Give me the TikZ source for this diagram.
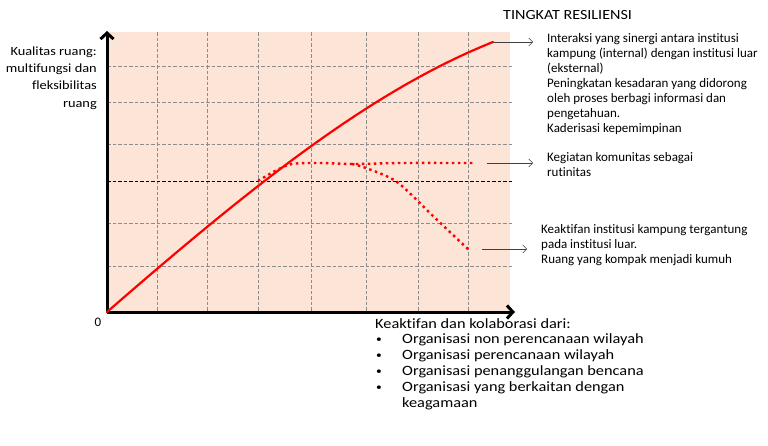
\documentclass[tikz,border=0pt]{standalone}
\usepackage{fontspec}
\setmainfont{Carlito}[Ligatures=NoCommon]
\newfontfamily\widefont{Carlito}[FakeStretch=1.15, Ligatures=NoCommon]
\usetikzlibrary{positioning,calc,arrows.meta}
\definecolor{peach}{HTML}{FCE4D6}
\definecolor{gridgray}{HTML}{8C8C8C}
\newcommand{\listdot}{\makebox[27pt][l]{\hspace*{1pt}\raisebox{1.2pt}{\fontsize{10}{10}\selectfont •}}}

\begin{document}
\begin{tikzpicture}[x=1pt,y=-1pt,
    gridline/.style={gridgray, line width=0.6pt, dash pattern=on 3.5pt off 2pt},
    curve/.style={red, line width=2.2pt, line cap=round},
    dotcurve/.style={red, line width=2.4pt, dash pattern=on 2.5pt off 3.5pt},
    pointer/.style={black!75, line width=0.5pt, -{Straight Barb[length=4pt,width=8pt]}, shorten >=14pt},
    note/.style={font=\fontsize{13}{15}\selectfont, align=left, inner sep=0pt, anchor=north west}]
    \useasboundingbox (0,0) rectangle (768,445);

    % Background of the chart
    \fill[peach] (107,32) rectangle (510,312);

    % Grid
    \draw[gridline] (157,32) -- (157,312);
    \draw[gridline] (207,32) -- (207,312);
    \draw[gridline] (258,32) -- (258,312);
    \draw[gridline] (311,32) -- (311,312);
    \draw[gridline] (366,32) -- (366,312);
    \draw[gridline] (418,32) -- (418,312);
    \draw[gridline] (468,32) -- (468,312);
    \draw[gridline] (107,66) -- (512,66);
    \draw[gridline] (107,102) -- (512,102);
    \draw[gridline] (107,144) -- (512,144);
    \draw[gridline, black] (107,181) -- (512,181);
    \draw[gridline] (107,223) -- (512,223);
    \draw[gridline] (107,266) -- (512,266);

    % Axes
    \coordinate (O) at (107,312);
    \coordinate (Ytop) at (107,31);
    \coordinate (Xend) at (515,312);
    \draw[line width=3pt, -{Straight Barb[length=6pt,width=13pt]}] (O) -- (Ytop);
    \draw[line width=3pt, -{Straight Barb[length=6pt,width=13pt]}] (O) -- (Xend);
    \node[font=\fontsize{13}{15}\selectfont, inner sep=0pt] (zero) at (98,322) {0};

    % Resilience curves
    \coordinate (high) at (493,42);
    \coordinate (mid) at (487,163);
    \coordinate (low) at (482,249);
    \draw[curve] (O) .. controls (257,181.5) and (373,90) .. (high);
    \draw[dotcurve] plot[smooth] coordinates {(258,181) (275,171) (292,164) (320,163) (355,164) (400,163) (473,163)};
    \draw[dotcurve] plot[smooth] coordinates {(352,164) (366,168) (397,182) (433,216) (470,251)};

    % Labels
    \node[font=\widefont\fontsize{12.5}{17.3}\selectfont, align=right, inner sep=0pt, anchor=north east] (ylabel) at (97,46.5) {Kualitas ruang:\\multifungsi dan\\fleksibilitas\\ruang};
    \node[font=\widefont\fontsize{14}{16}\selectfont, inner sep=0pt, anchor=west] (title) at (503,15) {TINGKAT RESILIENSI};
    \node[note] (highnote) at (547,33) {Interaksi yang sinergi antara institusi\\kampung (internal) dengan institusi luar\\(eksternal)\\Peningkatan kesadaran yang didorong\\oleh proses berbagi informasi dan\\pengetahuan.\\Kaderisasi kepemimpinan};
    \node[note] (midnote) at (547,152) {Kegiatan komunitas sebagai\\rutinitas};
    \node[note] (lownote) at (541,224) {Keaktifan institusi kampung tergantung\\pada institusi luar.\\Ruang yang kompak menjadi kumuh};
    \node[font=\widefont\fontsize{14.2}{15.8}\selectfont, align=left, inner sep=0pt, anchor=north west] (xlabel) at (375,318) {Keaktifan dan kolaborasi dari:\\
        \listdot Organisasi non perencanaan wilayah\\
        \listdot Organisasi perencanaan wilayah\\
        \listdot Organisasi penanggulangan bencana\\
        \listdot Organisasi yang berkaitan dengan\\
        \hspace*{27pt}keagamaan};

    % Pointers to the notes
    \draw[pointer] (high) -- (high -| highnote.west);
    \draw[pointer] (mid) -- (mid -| midnote.west);
    \draw[pointer] (low) -- (low -| lownote.west);

\end{tikzpicture}
\end{document}
